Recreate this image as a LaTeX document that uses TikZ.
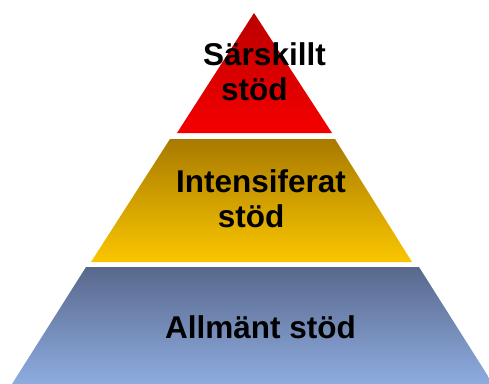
\documentclass[tikz,border=0pt]{standalone}
\usepackage{fontspec}
\setmainfont{Liberation Sans}
\begin{document}
\begin{tikzpicture}[x=1pt,y=-1pt,
  tier/.style={shade, shading angle=0},
  lbl/.style={anchor=base, inner sep=0pt, font=\bfseries\fontsize{31.5}{35}\selectfont, text=black}]
\definecolor{redtop}{RGB}{188,0,0}
\definecolor{redbot}{RGB}{245,0,0}
\definecolor{goldtop}{RGB}{168,122,0}
\definecolor{goldbot}{RGB}{250,198,0}
\definecolor{bluetop}{RGB}{88,104,140}
\definecolor{bluebot}{RGB}{142,172,224}
\useasboundingbox (0,0) rectangle (489,383);
\begin{scope}
\clip (0,0) rectangle (489,383);
\path[tier, top color=redtop, bottom color=redbot] (254,13) -- (332,133) -- (177,133) -- cycle;
\path[tier, top color=goldtop, bottom color=goldbot] (170,139) -- (335,139) -- (412,262) -- (91,262) -- cycle;
\path[tier, top color=bluetop, bottom color=bluebot] (86,267) -- (419,267) -- (493,384) -- (12,384) -- cycle;
\end{scope}
\node[lbl] (topA) at (264.5,65) {Särskillt};
\node[lbl] (topB) at (254.3,100) {stöd};
\node[lbl] (midA) at (261,192.7) {Intensiferat};
\node[lbl] (midB) at (251,227) {stöd};
\node[lbl] (bot) at (260.5,338) {Allmänt stöd};
\end{tikzpicture}
\end{document}
